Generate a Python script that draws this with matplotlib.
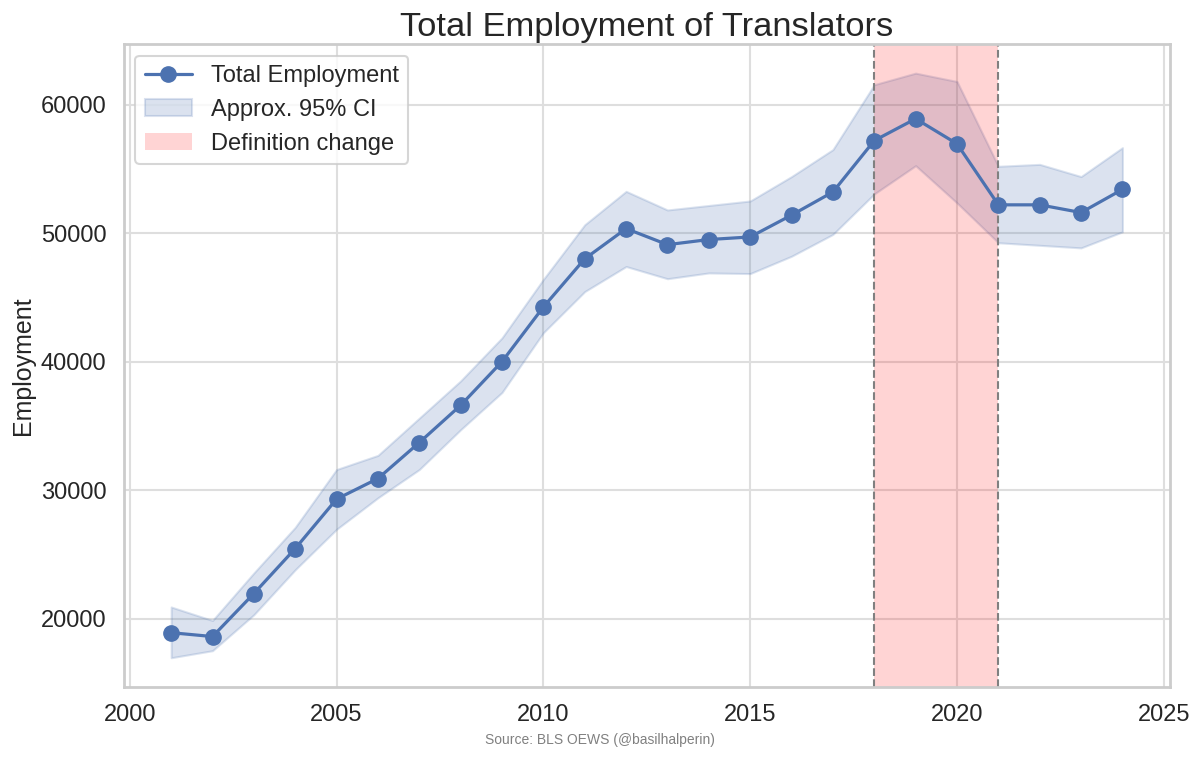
import matplotlib
matplotlib.use("Agg")
import matplotlib.pyplot as plt
import seaborn as sns

# data
years = list(range(2001, 2025))
employment = [18900, 18600, 21950, 25450, 29300, 30900, 33700, 36600, 40000, 44250,
              48000, 50350, 49100, 49500, 49700, 51400, 53200, 57200, 58900, 56950,
              52200, 52200, 51600, 53400]
ci_upper = [20900, 19850, 23550, 27100, 31600, 32700, 35600, 38500, 41850, 46400,
            50650, 53250, 51800, 52150, 52500, 54400, 56500, 61550, 62450, 61800,
            55200, 55350, 54400, 56650]
ci_lower = [16950, 17500, 20300, 23800, 26950, 29400, 31600, 34700, 37600, 42250,
            45450, 47400, 46450, 46900, 46850, 48200, 49900, 53050, 55250, 52350,
            49250, 49050, 48850, 50100]
change_start, change_end = 2018, 2021

sns.set_theme(style="whitegrid", context="talk")
plt.rcParams['font.family'] = ['Liberation Sans', 'DejaVu Sans']

fig, ax = plt.subplots(figsize=(12, 7.57), dpi=100)
fig.subplots_adjust(left=0.103, right=0.975, top=0.942, bottom=0.0925)

blue = sns.color_palette("deep")[0]
ax.plot(years, employment, marker="o", color=blue, linewidth=2.3, markersize=11,
        label="Total Employment", zorder=3)
ax.fill_between(years, ci_lower, ci_upper, color=blue, alpha=0.2,
                label="Approx. 95% CI")
ax.axvspan(change_start, change_end, color="red", alpha=0.17, linewidth=0,
           label="Definition change")
ax.axvline(change_start, color="gray", linestyle="--", linewidth=1.5)
ax.axvline(change_end, color="gray", linestyle="--", linewidth=1.5)

ax.grid(color="#dedede", linewidth=1.5)
for s in ax.spines.values():
    s.set_color("#cccccc")
    s.set_linewidth(2)

ax.set_title("Total Employment of Translators", fontsize=24.8)
ax.set_ylabel("Employment", fontsize=18)
ax.tick_params(labelsize=17)
ax.legend(loc="upper left", fontsize=17)

fig.text(0.5, 0.0225, "Source: BLS OEWS (@basilhalperin)", ha="center",
         va="center", fontsize=10, color="gray")

fig.savefig("out.png", dpi=100)
